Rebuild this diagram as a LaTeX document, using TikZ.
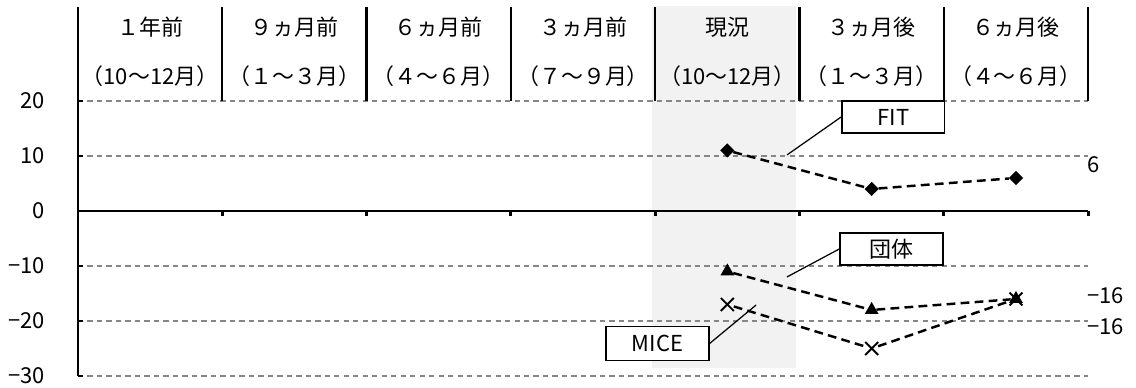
\documentclass[tikz,border=0pt]{standalone}
\usepackage{fontspec}
\setmainfont{Noto Sans CJK JP}
\usetikzlibrary{shapes.geometric,shapes.misc}

\definecolor{gridgray}{RGB}{134,134,134}
\definecolor{nowshade}{RGB}{242,242,242}

\tikzset{
  gridline/.style={draw=gridgray, line width=1.1pt, dash pattern=on 3pt off 2.4pt},
  axisline/.style={line width=1.6pt},
  sepline/.style={line width=1.3pt},
  series/.style={line width=1.4pt, dash pattern=on 5pt off 3pt},
  fitmark/.style={diamond, fill=black, inner sep=0pt, minimum size=0.29cm},
  grpmark/.style={regular polygon, regular polygon sides=3, fill=black, inner sep=0pt, minimum size=0.32cm},
  micemark/.style={cross out, draw=black, line width=1.1pt, inner sep=0pt, minimum size=0.22cm},
  tag/.style={draw, line width=1pt, fill=white, inner sep=0pt, minimum width=2.05cm, minimum height=0.64cm},
  leader/.style={line width=0.7pt},
  val/.style={inner sep=0pt, font=\fontsize{12.5}{14}\selectfont}
}

\begin{document}
\begin{tikzpicture}[x=2.886cm, y=0.11cm, font=\fontsize{12.5}{14}\selectfont]
	\useasboundingbox (-0.5405,-32.18) rectangle (7.332,38.36);

	% Columna actual
	\fill [nowshade] (3.978,-28.55) rectangle (4.976,37.27);

	% Rejilla
	\foreach \v in {20,10,-10,-20,-30}
		\draw [gridline] (0,\v) -- (7,\v);

	% Ejes
	\draw [axisline] (0,0) -- (7,0);
	\foreach \i in {1,...,7}
		\draw [axisline] (\i,0) -- (\i,-1);
	\draw [axisline] (0,20) -- (0,-30);
	\foreach \v in {20,10,-10,-20,-30}
		\draw [line width=1pt] (0,\v) -- (0.035,\v);
	\foreach \v/\t in {20/20,10/10,0/0,-10/−10,-20/−20,-30/−30}
		\node [val, anchor=east] (yl\v) at (-0.2287,\v) {\t};

	% Cabecera
	\foreach \i in {0,...,7}
		\draw [sepline] (\i,20) -- (\i,37.1);
	\foreach \t [count=\i] in {１年前,９ヵ月前,６ヵ月前,３ヵ月前,現況,３ヵ月後,６ヵ月後}
		\node (hd\i) at (\i-0.5,33.45) {\t};
	\foreach \t [count=\i] in {（10～12月）,（１～３月）,（４～６月）,（７～９月）,（10～12月）,（１～３月）,（４～６月）}
		\node (sub\i) at (\i-0.5,24.55) {\t};

	% Series
	\node [fitmark] (fit1) at (4.5,11) {};
	\node [fitmark] (fit2) at (5.5,4) {};
	\node [fitmark] (fit3) at (6.5,6) {};
	\node [grpmark] (grp1) at (4.5,-11) {};
	\node [grpmark] (grp2) at (5.5,-18) {};
	\node [grpmark] (grp3) at (6.5,-16) {};
	\node [micemark] (mice1) at (4.5,-17) {};
	\node [micemark] (mice2) at (5.5,-25) {};
	\node [micemark] (mice3) at (6.5,-16) {};
	\draw [series] (fit1) -- (fit2) -- (fit3);
	\draw [series] (grp1) -- (grp2) -- (grp3);
	\draw [series] (mice1) -- (mice2) -- (mice3);

	% Etiquetas
	\coordinate (fitpt) at (4.913,10.18);
	\coordinate (grppt) at (4.913,-12);
	\coordinate (micept) at (4.699,-17.1);
	\node [tag] (fitbox) at (5.65,17.09) {FIT};
	\node [tag] (grpbox) at (5.637,-6.91) {団体};
	\node [tag, minimum height=0.68cm] (micebox) at (4.016,-24.09) {MICE};
	\draw [leader] (fitbox.west) -- (fitpt);
	\draw [leader] (grpbox.west) -- (grppt);
	\draw [leader] (micebox.east) -- (micept);

	\node [val, anchor=west] (lastfit) at (6.992,8.36) {6};
	\node [val, anchor=west] (lastgrp) at (6.992,-15.45) {−16};
	\node [val, anchor=west] (lastmice) at (6.992,-21.09) {−16};
\end{tikzpicture}
\end{document}
